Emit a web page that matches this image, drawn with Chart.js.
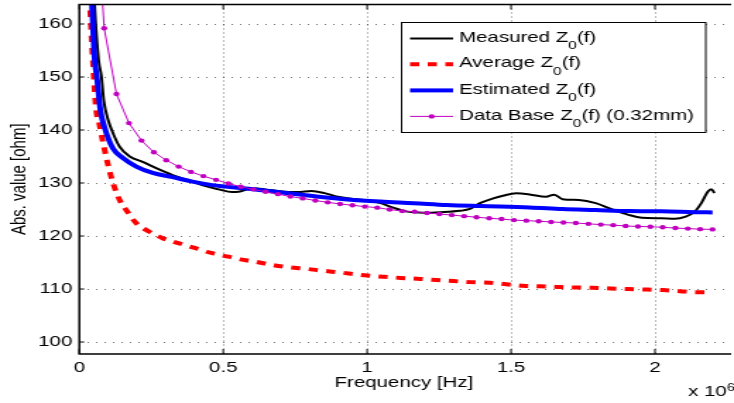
<!DOCTYPE html>
<html>
<head>
<meta charset="utf-8">
<script src="https://cdn.jsdelivr.net/npm/chart.js@4.4.1/dist/chart.umd.min.js"></script>
<style>
  html, body { margin: 0; padding: 0; background: #fff; }
  #chart { display: block; }
</style>
</head>
<body>
<!-- drawn at 520px wide, then stretched to 734px like the original figure -->
<canvas id="chart" width="520" height="403" style="width:734px;height:403px"></canvas>
<script>
// frequency in units of 10^6 Hz, impedance in ohm
const measuredF = [0.046, 0.053, 0.067, 0.077, 0.085, 0.1, 0.117, 0.14, 0.175, 0.22, 0.267, 0.324, 0.393, 0.439, 0.485, 0.53, 0.553, 0.6, 0.646, 0.703, 0.76, 0.806, 0.852, 0.898, 0.95, 1.0, 1.047, 1.093, 1.139, 1.197, 1.254, 1.323, 1.357, 1.392, 1.438, 1.472, 1.518, 1.564, 1.621, 1.65, 1.679, 1.736, 1.794, 1.852, 1.908, 1.954, 2.023, 2.069, 2.104, 2.138, 2.161, 2.184, 2.196, 2.207];
const measuredZ = [172, 163.6, 153.2, 150.0, 145.5, 141.9, 139.4, 136.85, 135.0, 134.0, 132.8, 131.5, 130.25, 129.4, 128.8, 128.3, 128.35, 129.0, 128.8, 128.4, 128.3, 128.5, 128.1, 127.4, 127.0, 126.7, 126.2, 125.3, 124.6, 124.4, 124.5, 124.75, 125.1, 126.2, 127.1, 127.6, 128.05, 127.85, 127.4, 127.8, 126.95, 126.8, 126.2, 125.0, 124.0, 123.45, 123.35, 123.25, 123.6, 124.6, 126.2, 128.4, 128.8, 128.1];

const averageF = [0.03, 0.04, 0.047, 0.058, 0.07, 0.079, 0.098, 0.117, 0.14, 0.163, 0.198, 0.2435, 0.289, 0.347, 0.404, 0.462, 0.519, 0.571, 0.611, 0.674, 0.73, 0.789, 0.846, 0.909, 0.99, 1.059, 1.116, 1.185, 1.242, 1.3, 1.357, 1.426, 1.483, 1.541, 1.6, 1.657, 1.719, 1.782, 1.845, 1.908, 1.972, 2.029, 2.086, 2.144, 2.2];
const averageZ = [172, 160, 153, 144, 141, 138.5, 133.8, 130.0, 126.8, 124.9, 122.4, 120.8, 119.6, 118.6, 117.7, 116.75, 116.1, 115.5, 115.15, 114.5, 114.1, 113.8, 113.45, 113.1, 112.6, 112.3, 112.1, 111.9, 111.7, 111.5, 111.3, 111.2, 110.9, 110.6, 110.5, 110.4, 110.3, 110.25, 110.1, 110.0, 109.9, 109.8, 109.6, 109.4, 109.4];

const estimatedF = [0.035, 0.044, 0.053, 0.062, 0.073, 0.087, 0.117, 0.152, 0.198, 0.255, 0.324, 0.393, 0.462, 0.588, 0.703, 0.818, 0.932, 1.047, 1.162, 1.277, 1.392, 1.564, 1.679, 1.794, 1.908, 2.023, 2.138, 2.2];
const estimatedZ = [175, 163.6, 153.5, 149.5, 143.8, 140.6, 136.5, 134.7, 133.1, 131.9, 131.1, 130.25, 129.6, 128.9, 128.2, 127.5, 126.9, 126.5, 126.2, 125.85, 125.65, 125.4, 125.1, 124.9, 124.7, 124.65, 124.5, 124.45];

const dbF = [0.0431, 0.0863, 0.129, 0.1725, 0.216, 0.259, 0.302, 0.345, 0.388, 0.431, 0.475, 0.518, 0.561, 0.604, 0.647, 0.69, 0.733, 0.776, 0.82, 0.863, 0.906, 0.949, 0.992, 1.035, 1.078, 1.122, 1.165, 1.208, 1.251, 1.294, 1.337, 1.38, 1.424, 1.467, 1.51, 1.553, 1.596, 1.639, 1.682, 1.725, 1.769, 1.812, 1.855, 1.898, 1.941, 1.984, 2.027, 2.071, 2.114, 2.157, 2.2];
const dbZ = [197, 159.2, 146.8, 141.3, 138.0, 135.8, 134.3, 133.1, 132.1, 131.3, 130.6, 129.9, 129.3, 128.8, 128.35, 127.9, 127.45, 127.1, 126.7, 126.35, 126.05, 125.8, 125.55, 125.35, 125.0, 124.7, 124.6, 124.35, 124.15, 123.95, 123.75, 123.55, 123.35, 123.2, 123.0, 122.9, 122.8, 122.65, 122.55, 122.45, 122.3, 122.15, 122.05, 121.9, 121.8, 121.75, 121.65, 121.5, 121.4, 121.3, 121.25];

const xTicks = [0, 0.5, 1, 1.5, 2];
const xTickLabels = ['0', '0.5', '1', '1.5', '2'];
const yTicks = [100, 110, 120, 130, 140, 150, 160];
const yTickLabels = ['100', '110', '120', '130', '140', '150', '160'];
const xExponent = ['x 10', '6'];
// legend text split as [before subscript, subscript, after subscript]
const legendText = [
  ['Measured Z', '0', '(f)'],
  ['Average Z', '0', '(f)'],
  ['Estimated Z', '0', '(f)'],
  ['Data Base Z', '0', '(f) (0.32mm)']
];

const FONT = "'Liberation Sans', Arial, Helvetica, sans-serif";
const MAGENTA = '#c000c0';
const GRID = 'rgba(0,0,0,0.55)';
const pts = (xs, ys) => xs.map((x, i) => ({ x, y: ys[i] }));

// axes box, inward ticks, legend and the x 10^6 note
const figurePlugin = {
  id: 'figure',
  afterDraw(chart) {
    const ctx = chart.ctx;
    const a = chart.chartArea;
    const xs = chart.scales.x, ys = chart.scales.y;
    ctx.save();
    ctx.strokeStyle = '#000';
    ctx.lineWidth = 1.5;
    ctx.beginPath();
    ctx.moveTo(a.right + 2, a.top); ctx.lineTo(a.left, a.top);
    ctx.lineTo(a.left, a.bottom); ctx.lineTo(a.right + 2, a.bottom);
    ctx.stroke();

    ctx.lineWidth = 1;
    ctx.beginPath();
    xTicks.forEach(v => {
      const px = xs.getPixelForValue(v);
      ctx.moveTo(px, a.bottom); ctx.lineTo(px, a.bottom - 5);
      ctx.moveTo(px, a.top); ctx.lineTo(px, a.top + 5);
    });
    yTicks.forEach(v => {
      const py = ys.getPixelForValue(v);
      ctx.moveTo(a.left, py); ctx.lineTo(a.left + 3.5, py);
    });
    ctx.stroke();

    // legend
    const bx = 284.5, by = 22.5, bw = 215.5, bh = 110;
    ctx.fillStyle = '#fff';
    ctx.fillRect(bx, by, bw, bh);
    ctx.strokeStyle = '#000';
    ctx.lineWidth = 1;
    ctx.strokeRect(bx, by, bw, bh);
    const rowBase = [41.7, 67.4, 93.6, 119.6];
    chart.data.datasets.forEach((ds, i) => {
      const ly = rowBase[i] - 3.2;
      ctx.save();
      ctx.strokeStyle = ds.borderColor;
      ctx.lineWidth = ds.borderWidth;
      ctx.setLineDash(ds.borderDash || []);
      ctx.beginPath();
      ctx.moveTo(290.5, ly); ctx.lineTo(321, ly);
      ctx.stroke();
      ctx.restore();
      if (ds.pointRadius) {
        ctx.fillStyle = ds.borderColor;
        ctx.beginPath();
        ctx.arc(305.8, ly, ds.pointRadius, 0, Math.PI * 2);
        ctx.fill();
      }
      const [t1, sub, t2] = legendText[i];
      ctx.fillStyle = '#000';
      ctx.textBaseline = 'alphabetic';
      ctx.textAlign = 'left';
      let tx = 325.2;
      ctx.font = '14.5px ' + FONT;
      ctx.fillText(t1, tx, rowBase[i]);
      tx += ctx.measureText(t1).width;
      ctx.font = '11px ' + FONT;
      ctx.fillText(sub, tx, rowBase[i] + 7.5);
      tx += ctx.measureText(sub).width;
      ctx.font = '14.5px ' + FONT;
      ctx.fillText(t2, tx, rowBase[i]);
    });

    // exponent of the x axis
    ctx.fillStyle = '#000';
    ctx.textBaseline = 'alphabetic';
    ctx.textAlign = 'left';
    ctx.font = '14.5px ' + FONT;
    ctx.fillText(xExponent[0], 487.4, 395.5);
    const ew = ctx.measureText(xExponent[0]).width;
    ctx.font = '10px ' + FONT;
    ctx.fillText(xExponent[1], 487.4 + ew + 0.3, 391);
    ctx.restore();
  }
};

new Chart(document.getElementById('chart'), {
  type: 'line',
  data: {
    datasets: [
      { label: 'Measured', data: pts(measuredF, measuredZ), borderColor: '#000000', borderWidth: 2,
        pointRadius: 0, cubicInterpolationMode: 'monotone', order: 3 },
      { label: 'Average', data: pts(averageF, averageZ), borderColor: '#ff0000', borderWidth: 4,
        borderDash: [6.5, 6], pointRadius: 0, cubicInterpolationMode: 'monotone', order: 2 },
      { label: 'Estimated', data: pts(estimatedF, estimatedZ), borderColor: '#0000ff', borderWidth: 4,
        pointRadius: 0, cubicInterpolationMode: 'monotone', order: 1 },
      { label: 'Data Base', data: pts(dbF, dbZ), borderColor: MAGENTA, borderWidth: 1,
        pointRadius: 2.2, pointBackgroundColor: MAGENTA, pointBorderWidth: 0, tension: 0, order: 0 }
    ]
  },
  options: {
    responsive: false,
    animation: false,
    devicePixelRatio: 1,
    layout: { padding: { top: 4.5, right: 0, bottom: 0, left: 0 } },
    plugins: { legend: { display: false }, tooltip: { enabled: false } },
    scales: {
      x: {
        type: 'linear', min: 0, max: 2.255,
        afterBuildTicks: s => { s.ticks = xTicks.map(v => ({ value: v })); },
        afterFit: s => { s.height = 49; s.paddingLeft = 0; s.paddingRight = 0; },
        grid: { color: GRID, lineWidth: 1, drawTicks: false },
        border: { display: false, dash: [1, 3] },
        ticks: { padding: 5, color: '#000', autoSkip: false, maxRotation: 0,
          font: { family: FONT, size: 14.5 }, callback: (v, i) => xTickLabels[i] },
        title: { display: true, text: 'Frequency [Hz]', color: '#000',
          font: { family: FONT, size: 14.5 }, padding: { top: 0, bottom: 11.3 } }
      },
      y: {
        type: 'linear', min: 97.74, max: 163.68,
        afterBuildTicks: s => { s.ticks = yTicks.map(v => ({ value: v })); },
        afterFit: s => { s.width = 56.2; s.paddingTop = 0; s.paddingBottom = 0; },
        grid: { color: GRID, lineWidth: 1, drawTicks: false },
        border: { display: false, dash: [1, 5] },
        ticks: { padding: 5, color: '#000', font: { family: FONT, size: 14.5 },
          callback: (v, i) => yTickLabels[i] },
        title: { display: true, text: 'Abs. value [ohm]', color: '#000',
          font: { family: FONT, size: 15 }, padding: { top: 5, bottom: 0 } }
      }
    }
  },
  plugins: [figurePlugin]
});
</script>
</body>
</html>
